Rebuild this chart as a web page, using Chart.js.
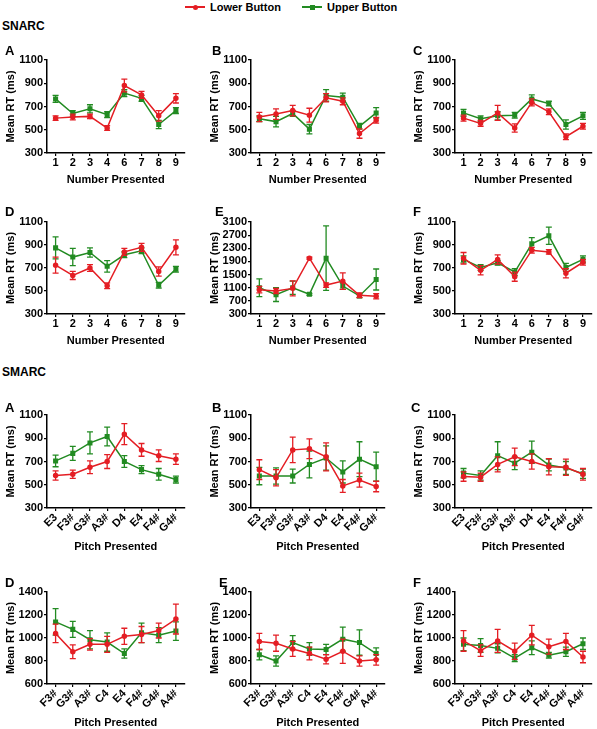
<!DOCTYPE html>
<html>
<head>
<meta charset="utf-8">
<script src="https://cdn.jsdelivr.net/npm/chart.js@4.4.0/dist/chart.umd.min.js"></script>
<style>
  body { margin: 0; width: 597px; height: 729px; position: relative; overflow: hidden; background: #fff;
         font-family: "Liberation Sans", Arial, sans-serif; font-weight: bold; color: #000; }
  canvas { position: absolute; }
  .txt { position: absolute; line-height: 1; white-space: nowrap; }
  .letter { font-size: 13px; }
  .section { font-size: 12px; }
  .leg { position: absolute; top: 1px; font-size: 11px; display: flex; align-items: center; }
  .leg .ln { width: 20px; height: 2px; position: relative; margin-right: 5px; }
  .leg .ln i { position: absolute; left: 8px; top: -1.5px; width: 5px; height: 5px; }
</style>
</head>
<body>
<div class="leg" style="left:185px"><span class="ln" style="background:rgb(228,30,36)"><i style="background:rgb(228,30,36);border-radius:50%"></i></span>Lower Button</div>
<div class="leg" style="left:302px"><span class="ln" style="background:rgb(34,139,34)"><i style="background:rgb(34,139,34)"></i></span>Upper Button</div>
<div class="txt section" style="left:2px;top:20px">SNARC</div>
<div class="txt section" style="left:2px;top:366px">SMARC</div>

<script>
const RED = "rgb(228,30,36)";
const GREEN = "rgb(34,139,34)";

// tick labels
const numbers = ["1", "2", "3", "4", "6", "7", "8", "9"];
const pitchesTop = ["E3", "F3#", "G3#", "A3#", "D4", "E4", "F4#", "G4#"];
const pitchesBottom = ["F3#", "G3#", "A3#", "C4", "E4", "F4#", "G4#", "A4#"];

// SNARC
const snarcA_lower = [600, 610, 615, 515, 880, 800, 620, 770];
const snarcA_lowerErr = [20, 25, 20, 20, 55, 30, 45, 40];
const snarcA_upper = [765, 640, 680, 630, 815, 770, 545, 665];
const snarcA_upperErr = [30, 25, 35, 25, 30, 25, 35, 25];

const snarcB_lower = [610, 635, 665, 625, 775, 745, 467, 582];
const snarcB_lowerErr = [40, 45, 45, 60, 35, 30, 40, 25];
const snarcB_upper = [595, 570, 640, 505, 795, 780, 530, 645];
const snarcB_upperErr = [25, 45, 25, 40, 50, 35, 25, 45];

const snarcC_lower = [600, 555, 645, 515, 735, 655, 440, 530];
const snarcC_lowerErr = [25, 25, 65, 35, 30, 25, 25, 25];
const snarcC_upper = [645, 595, 620, 625, 765, 725, 545, 620];
const snarcC_upperErr = [30, 25, 35, 25, 35, 20, 40, 30];

const snarcD_lower = [725, 635, 700, 545, 840, 880, 670, 880];
const snarcD_lowerErr = [70, 35, 30, 25, 30, 35, 40, 65];
const snarcD_upper = [875, 795, 835, 715, 815, 850, 550, 690];
const snarcD_upperErr = [95, 75, 40, 50, 25, 25, 25, 25];

const snarcE_lower = [1040, 1000, 1080, 2000, 1180, 1300, 870, 840];
const snarcE_lowerErr = [100, 80, 230, 30, 70, 250, 70, 80];
const snarcE_upper = [1100, 890, 1100, 900, 2000, 1150, 850, 1350];
const snarcE_upperErr = [270, 210, 200, 30, 980, 100, 50, 320];

const snarcF_lower = [785, 680, 775, 625, 855, 840, 655, 750];
const snarcF_lowerErr = [50, 40, 40, 40, 25, 20, 40, 25];
const snarcF_upper = [775, 705, 745, 665, 910, 980, 705, 775];
const snarcF_upperErr = [30, 25, 20, 30, 55, 75, 35, 30];

// SMARC
const smarcA_lower = [580, 590, 650, 700, 935, 800, 750, 720];
const smarcA_lowerErr = [40, 35, 55, 60, 90, 55, 50, 45];
const smarcA_upper = [705, 770, 860, 915, 700, 630, 590, 545];
const smarcA_upperErr = [50, 60, 95, 80, 50, 35, 50, 30];

const smarcB_lower = [630, 560, 800, 810, 740, 490, 540, 485];
const smarcB_lowerErr = [85, 70, 110, 85, 120, 55, 60, 45];
const smarcB_upper = [575, 575, 575, 675, 730, 610, 720, 655];
const smarcB_upperErr = [75, 70, 60, 115, 105, 95, 150, 125];

const smarcC_lower = [570, 565, 675, 740, 700, 655, 650, 590];
const smarcC_lowerErr = [40, 35, 65, 75, 65, 70, 70, 50];
const smarcC_upper = [600, 580, 750, 685, 780, 670, 645, 595];
const smarcC_upperErr = [40, 40, 120, 55, 95, 50, 55, 40];

const smarcD_lower = [1040, 880, 945, 945, 1015, 1030, 1065, 1165];
const smarcD_lowerErr = [80, 60, 50, 70, 70, 70, 65, 130];
const smarcD_upper = [1140, 1075, 985, 965, 865, 1045, 1025, 1060];
const smarcD_upperErr = [115, 70, 80, 80, 40, 85, 65, 80];

const smarcE_lower = [970, 955, 905, 865, 815, 885, 800, 810];
const smarcE_lowerErr = [70, 70, 65, 55, 40, 105, 45, 45];
const smarcE_upper = [855, 800, 960, 905, 900, 990, 960, 865];
const smarcE_upperErr = [45, 45, 60, 55, 45, 105, 110, 50];

const smarcF_lower = [975, 890, 975, 885, 1025, 925, 970, 835];
const smarcF_lowerErr = [90, 50, 100, 70, 85, 65, 70, 50];
const smarcF_upper = [945, 935, 910, 825, 915, 850, 880, 950];
const smarcF_upperErr = [55, 60, 40, 30, 60, 25, 40, 50];

// layout of the 3x4 grid
const cols = [
  { left: 0, width: 190, padRight: 3 },
  { left: 204, width: 186, padRight: 3 },
  { left: 408, width: 189, padRight: 0 }
];
const rows = [
  { top: 52, height: 135, xh: 34, rot: 0 },
  { top: 214, height: 134, xh: 34, rot: 0 },
  { top: 407, height: 147, xh: 46, rot: 45 },
  { top: 584, height: 146, xh: 46, rot: 45 }
];
const letterPos = [
  [[5, 44], [212, 44], [413, 44]],
  [[5, 205], [215, 205], [413, 205]],
  [[5, 401], [212, 401], [411, 401]],
  [[5, 576], [219, 576], [413, 576]]
];

const panels = [
  { r: 0, c: 0, letter: "A", labels: numbers, lo: snarcA_lower, loE: snarcA_lowerErr, up: snarcA_upper, upE: snarcA_upperErr, min: 300, max: 1100, step: 200, xTitle: "Number Presented" },
  { r: 0, c: 1, letter: "B", labels: numbers, lo: snarcB_lower, loE: snarcB_lowerErr, up: snarcB_upper, upE: snarcB_upperErr, min: 300, max: 1100, step: 200, xTitle: "Number Presented" },
  { r: 0, c: 2, letter: "C", labels: numbers, lo: snarcC_lower, loE: snarcC_lowerErr, up: snarcC_upper, upE: snarcC_upperErr, min: 300, max: 1100, step: 200, xTitle: "Number Presented" },
  { r: 1, c: 0, letter: "D", labels: numbers, lo: snarcD_lower, loE: snarcD_lowerErr, up: snarcD_upper, upE: snarcD_upperErr, min: 300, max: 1100, step: 200, xTitle: "Number Presented" },
  { r: 1, c: 1, letter: "E", labels: numbers, lo: snarcE_lower, loE: snarcE_lowerErr, up: snarcE_upper, upE: snarcE_upperErr, min: 300, max: 3100, step: 400, xTitle: "Number Presented" },
  { r: 1, c: 2, letter: "F", labels: numbers, lo: snarcF_lower, loE: snarcF_lowerErr, up: snarcF_upper, upE: snarcF_upperErr, min: 300, max: 1100, step: 200, xTitle: "Number Presented" },
  { r: 2, c: 0, letter: "A", labels: pitchesTop, lo: smarcA_lower, loE: smarcA_lowerErr, up: smarcA_upper, upE: smarcA_upperErr, min: 300, max: 1100, step: 200, xTitle: "Pitch Presented" },
  { r: 2, c: 1, letter: "B", labels: pitchesTop, lo: smarcB_lower, loE: smarcB_lowerErr, up: smarcB_upper, upE: smarcB_upperErr, min: 300, max: 1100, step: 200, xTitle: "Pitch Presented" },
  { r: 2, c: 2, letter: "C", labels: pitchesTop, lo: smarcC_lower, loE: smarcC_lowerErr, up: smarcC_upper, upE: smarcC_upperErr, min: 300, max: 1100, step: 200, xTitle: "Pitch Presented" },
  { r: 3, c: 0, letter: "D", labels: pitchesBottom, lo: smarcD_lower, loE: smarcD_lowerErr, up: smarcD_upper, upE: smarcD_upperErr, min: 600, max: 1400, step: 200, xTitle: "Pitch Presented" },
  { r: 3, c: 1, letter: "E", labels: pitchesBottom, lo: smarcE_lower, loE: smarcE_lowerErr, up: smarcE_upper, upE: smarcE_upperErr, min: 600, max: 1400, step: 200, xTitle: "Pitch Presented" },
  { r: 3, c: 2, letter: "F", labels: pitchesBottom, lo: smarcF_lower, loE: smarcF_lowerErr, up: smarcF_upper, upE: smarcF_upperErr, min: 600, max: 1400, step: 200, xTitle: "Pitch Presented" }
];

// vertical error bars with caps, drawn right after each dataset
const errorBars = {
  id: "errorBars",
  afterDatasetDraw(chart, args) {
    const ds = chart.data.datasets[args.index];
    const y = chart.scales.y;
    const ctx = chart.ctx;
    ctx.save();
    ctx.strokeStyle = ds.borderColor;
    ctx.lineWidth = 1.3;
    args.meta.data.forEach((pt, i) => {
      const top = y.getPixelForValue(ds.data[i] + ds.errors[i]);
      const bot = y.getPixelForValue(ds.data[i] - ds.errors[i]);
      ctx.beginPath();
      ctx.moveTo(pt.x, top); ctx.lineTo(pt.x, bot);
      ctx.moveTo(pt.x - 3, top); ctx.lineTo(pt.x + 3, top);
      ctx.moveTo(pt.x - 3, bot); ctx.lineTo(pt.x + 3, bot);
      ctx.stroke();
    });
    ctx.restore();
  }
};

const font = { family: "'Liberation Sans', Arial, sans-serif", size: 11, weight: "bold" };

panels.forEach(p => {
  const col = cols[p.c], row = rows[p.r];
  const cv = document.createElement("canvas");
  cv.width = col.width; cv.height = row.height;
  cv.style.left = col.left + "px"; cv.style.top = row.top + "px";
  cv.style.width = col.width + "px"; cv.style.height = row.height + "px";
  document.body.appendChild(cv);

  const lt = document.createElement("div");
  lt.className = "txt letter";
  lt.textContent = p.letter;
  lt.style.left = letterPos[p.r][p.c][0] + "px";
  lt.style.top = letterPos[p.r][p.c][1] + "px";
  document.body.appendChild(lt);

  new Chart(cv.getContext("2d"), {
    type: "line",
    data: {
      labels: p.labels,
      datasets: [
        {
          label: "Lower Button",
          data: p.lo,
          errors: p.loE,
          borderColor: RED,
          backgroundColor: RED,
          borderWidth: 1.5,
          pointStyle: "circle",
          pointRadius: 2,
          tension: 0
        },
        {
          label: "Upper Button",
          data: p.up,
          errors: p.upE,
          borderColor: GREEN,
          backgroundColor: GREEN,
          borderWidth: 1.5,
          pointStyle: "rect",
          pointRadius: 2.5,
          tension: 0
        }
      ]
    },
    options: {
      responsive: false,
      animation: false,
      devicePixelRatio: 1,
      layout: { padding: { top: 8, right: col.padRight, left: 0, bottom: 0 } },
      plugins: { legend: { display: false }, tooltip: { enabled: false } },
      scales: {
        x: {
          offset: true,
          grid: { drawOnChartArea: false, drawTicks: true, tickLength: 3, color: "#000", lineWidth: 1.2 },
          border: { color: "#000", width: 1.5 },
          ticks: { color: "#000", font: font, padding: 0, autoSkip: false, maxRotation: row.rot, minRotation: row.rot },
          title: { display: true, text: p.xTitle, color: "#000", font: font, padding: 0 },
          afterFit: s => { s.height = row.xh; }
        },
        y: {
          min: p.min,
          max: p.max,
          grid: { drawOnChartArea: false, drawTicks: true, tickLength: 3, color: "#000", lineWidth: 1.2 },
          border: { color: "#000", width: 1.5 },
          ticks: { stepSize: p.step, autoSkip: false, color: "#000", font: font, padding: 1, callback: v => String(v) },
          title: { display: true, text: "Mean RT (ms)", color: "#000", font: font, padding: { top: 4, bottom: 0 } },
          afterFit: s => { s.width = 47; }
        }
      }
    },
    plugins: [errorBars]
  });
});
</script>
</body>
</html>
